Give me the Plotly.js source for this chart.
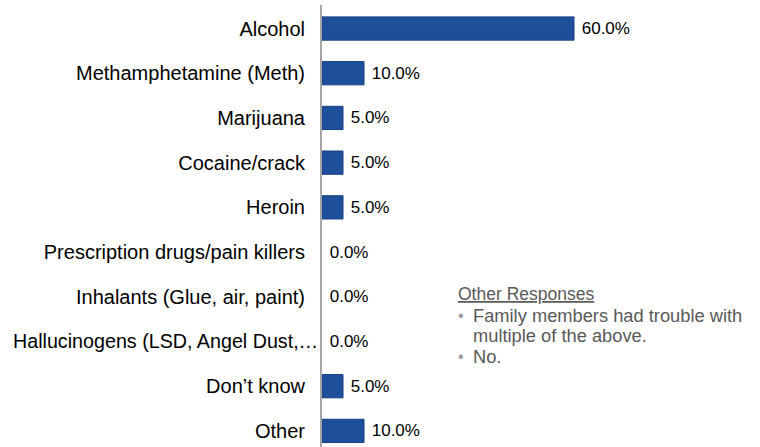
<!DOCTYPE html>
<html>
<head>
<meta charset="utf-8">
<script src="https://cdn.plot.ly/plotly-3.0.1.min.js"></script>
<style>html,body{margin:0;padding:0;background:#fff;}#chart{width:760px;height:447px;}</style>
</head>
<body>
<div id="chart"></div>
<script>
const categories = [
  "Alcohol",
  "Methamphetamine (Meth)",
  "Marijuana",
  "Cocaine/crack",
  "Heroin",
  "Prescription drugs/pain killers",
  "Inhalants (Glue, air, paint)",
  "Hallucinogens (LSD, Angel Dust,\u2026",
  "Don\u2019t know",
  "Other"
];
const percentValues = [60, 10, 5, 5, 5, 0, 0, 0, 5, 10];
const valueLabels = percentValues.map(v => v.toFixed(1) + "%");
const otherResponsesTitle = "Other Responses";
const otherResponses = [
  ["Family members had trouble with", "multiple of the above."],
  ["No."]
];

const W = 760, H = 447, L = 322, R = 18, T = 5, B = 0;
const pw = W - L - R, ph = H - T - B;
const px = x => (x - L) / pw;
const py = y => 1 - (y - T) / ph;

const FONT = "Liberation Sans, Arial, sans-serif";
const textColor = "#595959";
const longLabel = categories[7];
const annotations = [];

// long (truncated) category label reaches up to the axis line, as in the reference
annotations.push({xref:"paper", yref:"y", x:px(320), y:longLabel, xanchor:"right", yanchor:"middle",
  text:longLabel, showarrow:false, font:{family:FONT, size:19.7, color:"#000"}});

annotations.push({xref:"paper", yref:"paper", x:px(456), y:py(294), xanchor:"left", yanchor:"middle",
  text:"<u>" + otherResponsesTitle + "</u>", showarrow:false,
  font:{family:FONT, size:17.5, color:textColor}});
let lineY = 315;
otherResponses.forEach(item => {
  annotations.push({xref:"paper", yref:"paper", x:px(456), y:py(lineY), xanchor:"left", yanchor:"middle",
    text:"\u2022", showarrow:false,
    font:{family:FONT, size:16, color:"#9a9a9a"}});
  item.forEach(line => {
    annotations.push({xref:"paper", yref:"paper", x:px(471), y:py(lineY), xanchor:"left", yanchor:"middle",
      text:line, showarrow:false,
      font:{family:FONT, size:18.3, color:textColor}});
    lineY += 20.5;
  });
});

const trace = {
  type:"bar",
  orientation:"h",
  y: categories,
  x: percentValues,
  text: valueLabels,
  texttemplate:"\u00a0%{text}",
  textposition:"outside",
  cliponaxis:false,
  textfont:{family:FONT, size:17, color:"#000"},
  marker:{color:"#1d4f9b", line:{color:"#163f80", width:percentValues.map(v => v > 0 ? 1 : 0)}},
  width:0.52,
  hoverinfo:"none"
};

const layout = {
  width:W, height:H,
  margin:{l:L, r:R, t:T, b:B, pad:0},
  paper_bgcolor:"#fff", plot_bgcolor:"#fff",
  showlegend:false,
  font:{family:FONT, color:"#000"},
  xaxis:{range:[0,100], visible:false, showgrid:false, zeroline:false, fixedrange:true},
  yaxis:{
    type:"category",
    categoryorder:"array", categoryarray:categories,
    tickmode:"array", tickvals:categories,
    ticktext:categories.map(c => c === longLabel ? "" : c),
    range:[9.36, -0.526],
    showline:true, linecolor:"#a6a6a6", linewidth:2,
    ticks:"outside", ticklen:11, tickcolor:"rgba(0,0,0,0)",
    showgrid:false, zeroline:false,
    tickfont:{family:FONT, size:20, color:"#000"},
    fixedrange:true
  },
  annotations: annotations
};

Plotly.newPlot("chart", [trace], layout, {displayModeBar:false, staticPlot:true});
</script>
</body>
</html>
